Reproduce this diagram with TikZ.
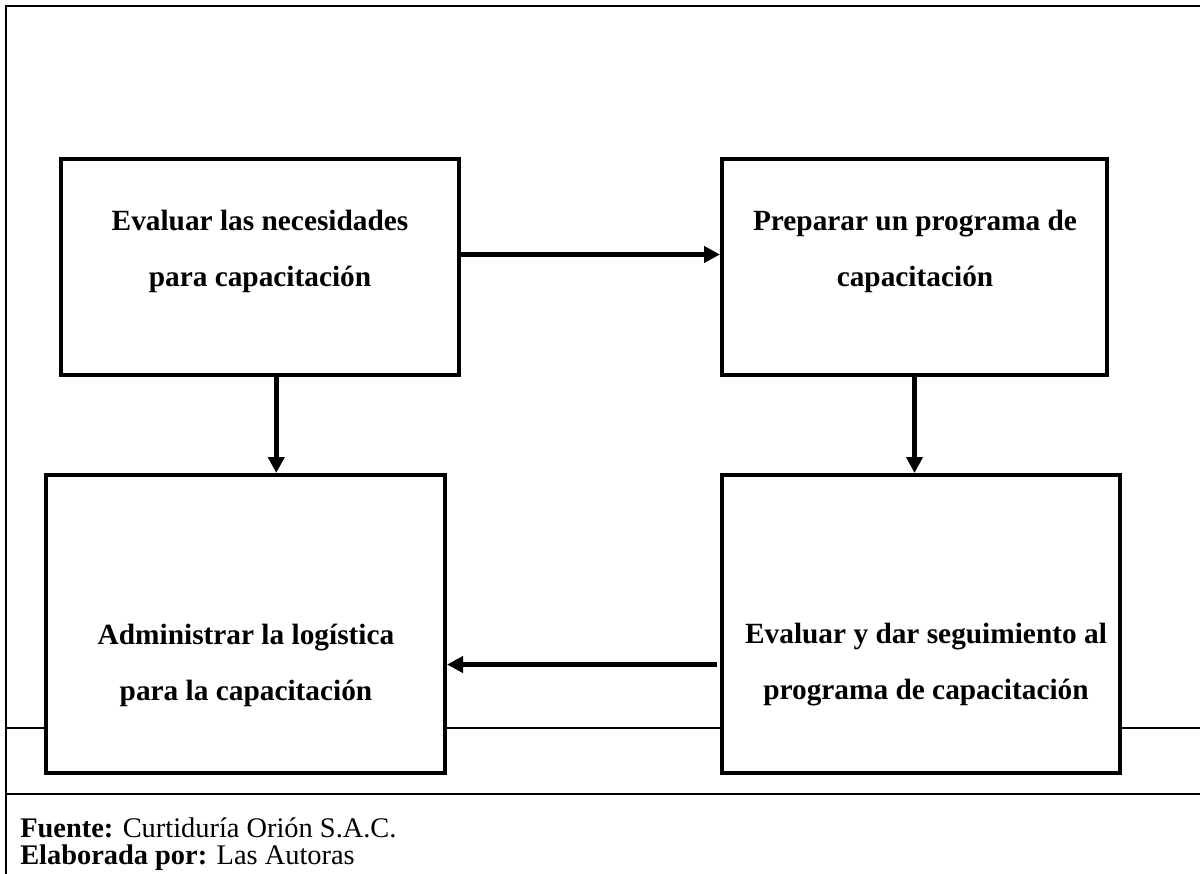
\documentclass[tikz,border=0pt]{standalone}
\usepackage{fontspec}
\setmainfont{Liberation Serif}
\usepackage{tikz}
\usetikzlibrary{positioning,calc,arrows.meta}

\begin{document}
\begin{tikzpicture}[x=0.75pt, y=-0.75pt,
    box/.style={draw, line width=3pt, fill=white, inner sep=0pt},
    boxtext/.style={align=center, inner sep=0pt, font=\fontsize{22}{42}\selectfont\bfseries},
    flow/.style={line width=3.5pt, -{Triangle[length=12pt, width=12pt]}},
    frame/.style={line width=1.5pt}]
    \useasboundingbox (0,0) rectangle (1200,874);

    % Frame
    \coordinate (tl) at (6,6);
    \coordinate (tr) at (1200,6);
    \coordinate (bl) at (6,874);
    \draw[frame] (tr) -- (tl) -- (bl);
    \coordinate (midL) at (6,728);
    \coordinate (midR) at (1200,728);
    \draw[frame] (midL) -- (midR);
    \coordinate (sepL) at (6,794);
    \coordinate (sepR) at (1200,794);
    \draw[frame] (sepL) -- (sepR);

    % Boxes
    \node[box, minimum width=298.5pt, minimum height=162pt] (needs) at (260,267) {};
    \node[box, minimum width=288.75pt, minimum height=162pt] (prog) at (914.5,267) {};
    \node[box, minimum width=299.25pt, minimum height=223.5pt] (logis) at (245.5,624) {};
    \node[box, minimum width=298.5pt, minimum height=223.5pt] (follow) at (921,624) {};

    % Box texts
    \node[boxtext] (needsT) at (260,251) {Evaluar las necesidades\\para capacitación};
    \node[boxtext] (progT) at (915,251) {Preparar un programa de\\capacitación};
    \node[boxtext] (logisT) at (246,665) {Administrar la logística\\para la capacitación};
    \node[boxtext] (followT) at (926,665) {Evaluar y dar seguimiento al\\programa de capacitación};

    % Arrows
    \draw[flow] ([yshift=9.4pt]needs.east) -- ([yshift=9.4pt]needs.east -| prog.west);
    \draw[flow] (prog.south) -- (prog.south |- follow.north);
    \draw[flow] ([xshift=-2pt, yshift=-30.4pt]follow.west) -- ([yshift=-30.4pt]follow.west -| logis.east);
    \draw[flow] ([xshift=12.2pt]needs.south) -- ([xshift=12.2pt]needs.south |- logis.north);

    % Source
    \node[anchor=north west, inner sep=0pt, align=left, font=\fontsize{21.3}{20.5}\selectfont] (source) at (20,817) {\textbf{Fuente:} Curtiduría Orión S.A.C.\\\textbf{Elaborada por:} Las Autoras};
\end{tikzpicture}
\end{document}
